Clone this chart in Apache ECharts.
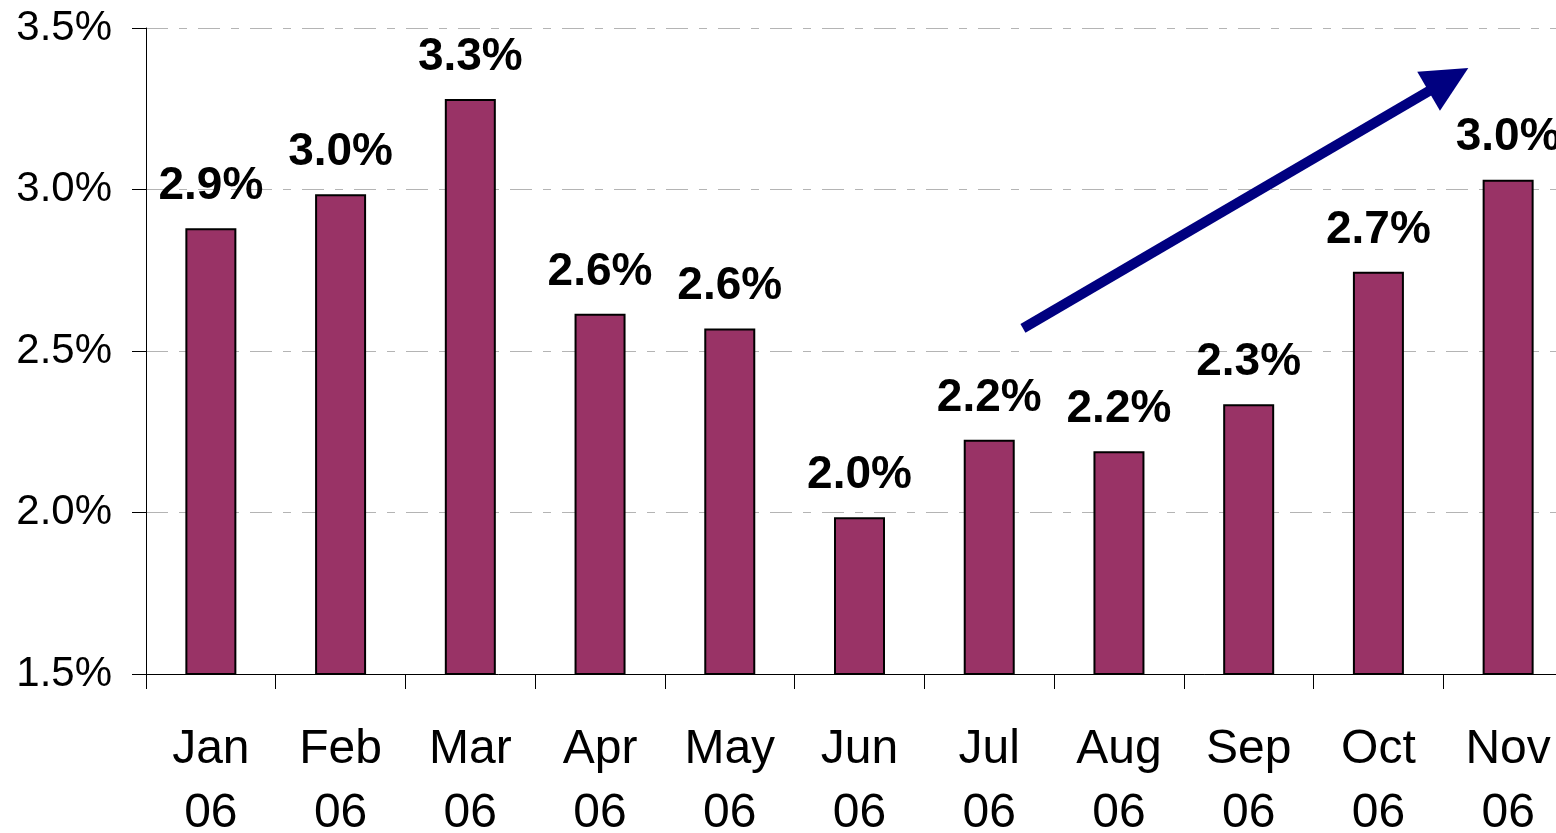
<!DOCTYPE html>
<html>
<head>
<meta charset="utf-8">
<title>Monthly rate 2006</title>
<script src="https://cdn.jsdelivr.net/npm/echarts@6/dist/echarts.min.js"></script>
<style>
  html, body { margin: 0; padding: 0; background: #fff; }
  #chart { width: 1556px; height: 833px; }
</style>
</head>
<body>
<div id="chart"></div>
<script>
// categories and values
var months = ['Jan\n06', 'Feb\n06', 'Mar\n06', 'Apr\n06', 'May\n06', 'Jun\n06',
              'Jul\n06', 'Aug\n06', 'Sep\n06', 'Oct\n06', 'Nov\n06'];
var rates = [2.88, 2.985, 3.28, 2.615, 2.57, 1.985, 2.225, 2.19, 2.335, 2.745, 3.03];

// trend arrow, in (category index, percent) units
var arrowStart = [6.26, 2.57];
var arrowEnd = [9.54, 3.34];

var font = "'Liberation Sans', Arial, sans-serif";

var chart = echarts.init(document.getElementById('chart'));

chart.setOption({
    animation: false,
    backgroundColor: '#fff',
    grid: {
        left: 146,
        top: 28,
        width: 1427,
        height: 646,
        outerBoundsMode: 'none',
        containLabel: false
    },
    xAxis: [
        {
            type: 'category',
            data: months,
            boundaryGap: true,
            axisLine: { lineStyle: { color: '#000', width: 1 } },
            axisTick: { show: true, length: 15, lineStyle: { color: '#000' } },
            axisLabel: {
                color: '#000',
                fontFamily: font,
                fontSize: 48,
                lineHeight: 64,
                margin: 44,
                interval: 0
            },
            splitLine: { show: false }
        },
        {
            // hidden helper axis for the arrow
            type: 'value',
            min: -0.5,
            max: 10.5,
            show: false
        }
    ],
    yAxis: {
        type: 'value',
        min: 1.5,
        max: 3.5,
        interval: 0.5,
        axisLine: { show: true, onZero: false, lineStyle: { color: '#000', width: 1 } },
        axisTick: { show: true, length: 14, lineStyle: { color: '#000' } },
        axisLabel: {
            color: '#000',
            fontFamily: font,
            fontSize: 42,
            margin: 34,
            padding: [4, 0, 0, 0],
            formatter: function (v) { return v.toFixed(1) + '%'; }
        },
        splitLine: {
            show: true,
            lineStyle: { color: '#b4b4b4', width: 1, type: [22, 11, 8, 11] }
        }
    },
    series: [
        {
            name: 'rate',
            type: 'bar',
            data: rates,
            barWidth: 51,
            itemStyle: {
                color: '#993366',
                borderColor: '#000',
                borderWidth: 2
            },
            label: {
                show: true,
                position: 'top',
                distance: 19,
                color: '#000',
                fontFamily: font,
                fontWeight: 'bold',
                fontSize: 46,
                lineHeight: 46,
                formatter: function (p) { return p.value.toFixed(1) + '%'; }
            },
            silent: true
        },
        {
            name: 'trend',
            type: 'line',
            xAxisIndex: 1,
            data: [arrowStart, arrowEnd],
            symbol: 'none',
            lineStyle: { opacity: 0 },
            silent: true,
            markLine: {
                silent: true,
                symbol: ['none', 'triangle'],
                symbolSize: [45, 46],
                label: { show: false },
                lineStyle: { color: '#000080', width: 10, type: 'solid' },
                emphasis: { disabled: true },
                data: [
                    [
                        { coord: arrowStart },
                        { coord: arrowEnd }
                    ]
                ]
            }
        }
    ]
});
</script>
</body>
</html>
